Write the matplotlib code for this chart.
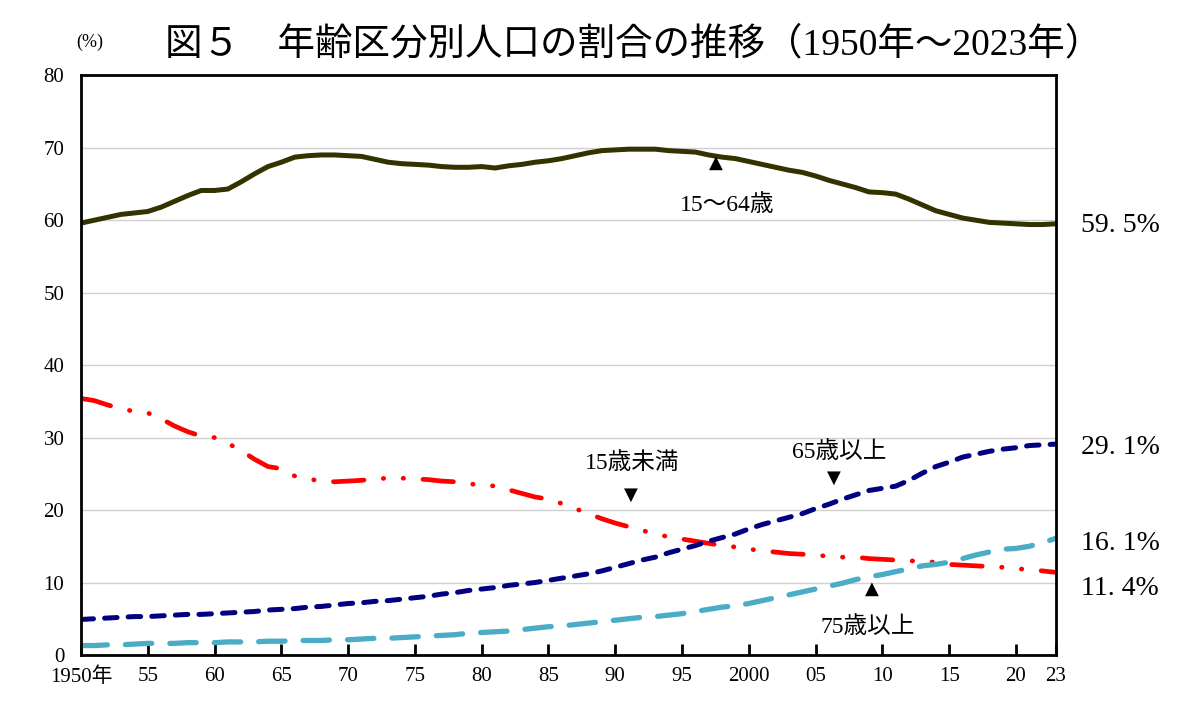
import numpy as np
import matplotlib
matplotlib.use("Agg")
import matplotlib.pyplot as plt

plt.rcParams['font.family'] = ['Liberation Serif', 'Noto Sans CJK JP', 'DejaVu Sans']
plt.rcParams['lines.scale_dashes'] = False

# data: share of population by age group (%), 1950-2023
years = list(range(1950, 2024))

age_15_64 = [59.6, 60.0, 60.4, 60.8, 61.0, 61.2, 61.8, 62.6, 63.4, 64.1,
             64.1, 64.3, 65.3, 66.4, 67.4, 68.0, 68.7, 68.9, 69.0, 69.0,
             68.9, 68.8, 68.4, 68.0, 67.8, 67.7, 67.6, 67.4, 67.3, 67.3,
             67.4, 67.2, 67.5, 67.7, 68.0, 68.2, 68.5, 68.9, 69.3, 69.6,
             69.7, 69.8, 69.8, 69.8, 69.6, 69.5, 69.4, 69.0, 68.7, 68.5,
             68.1, 67.7, 67.3, 66.9, 66.6, 66.1, 65.5, 65.0, 64.5, 63.9,
             63.8, 63.6, 62.9, 62.1, 61.3, 60.8, 60.3, 60.0, 59.7, 59.6,
             59.5, 59.4, 59.4, 59.5]

age_0_14 = [35.4, 35.1, 34.5, 34.0, 33.6, 33.4, 32.6, 31.6, 30.8, 30.2,
            30.0, 29.2, 28.2, 27.0, 26.0, 25.7, 24.7, 24.3, 24.0, 23.9,
            24.0, 24.1, 24.3, 24.4, 24.4, 24.3, 24.2, 24.0, 23.9, 23.6,
            23.5, 23.3, 22.8, 22.3, 21.8, 21.5, 20.9, 20.2, 19.5, 18.8,
            18.2, 17.7, 17.2, 16.7, 16.3, 16.0, 15.7, 15.4, 15.1, 14.9,
            14.6, 14.4, 14.2, 14.0, 13.9, 13.8, 13.6, 13.5, 13.5, 13.3,
            13.2, 13.1, 13.0, 12.9, 12.8, 12.5, 12.4, 12.3, 12.2, 12.1,
            11.9, 11.8, 11.6, 11.4]

age_65_over = [4.9, 5.0, 5.1, 5.2, 5.3, 5.3, 5.4, 5.5, 5.6, 5.6,
               5.7, 5.8, 5.9, 6.0, 6.2, 6.3, 6.4, 6.6, 6.7, 6.9,
               7.1, 7.2, 7.4, 7.5, 7.7, 7.9, 8.1, 8.4, 8.6, 8.9,
               9.1, 9.3, 9.6, 9.8, 10.0, 10.3, 10.6, 10.9, 11.2, 11.6,
               12.1, 12.6, 13.1, 13.5, 14.1, 14.6, 15.1, 15.7, 16.2, 16.7,
               17.4, 18.0, 18.5, 19.0, 19.5, 20.2, 20.8, 21.5, 22.1, 22.7,
               23.0, 23.3, 24.1, 25.1, 26.0, 26.6, 27.3, 27.7, 28.1, 28.4,
               28.6, 28.9, 29.0, 29.1]

age_75_over = [1.3, 1.3, 1.4, 1.4, 1.5, 1.6, 1.6, 1.6, 1.7, 1.7,
               1.7, 1.8, 1.8, 1.8, 1.9, 1.9, 2.0, 2.0, 2.0, 2.1,
               2.1, 2.2, 2.3, 2.3, 2.4, 2.5, 2.6, 2.7, 2.8, 3.0,
               3.1, 3.2, 3.3, 3.5, 3.7, 3.9, 4.0, 4.2, 4.4, 4.6,
               4.8, 5.0, 5.2, 5.3, 5.5, 5.7, 6.0, 6.3, 6.6, 6.8,
               7.1, 7.5, 7.9, 8.3, 8.7, 9.1, 9.5, 9.9, 10.4, 10.8,
               11.1, 11.5, 11.9, 12.3, 12.5, 12.8, 13.3, 13.8, 14.2, 14.6,
               14.7, 15.0, 15.5, 16.1]

xtick_pos = [1950, 1955, 1960, 1965, 1970, 1975, 1980, 1985, 1990, 1995,
             2000, 2005, 2010, 2015, 2020, 2023]
xtick_labels = ['1950年', '55', '60', '65', '70', '75', '80', '85', '90', '95',
                '2000', '05', '10', '15', '20', '23']

fig = plt.figure(figsize=(12, 7.1), dpi=100)
ax = fig.add_axes([0.0675, 0.0775, 0.8125, 0.8165])

ax.plot(years, age_15_64, color='#333300', lw=3.6, solid_capstyle='round')
ax.plot(years, age_0_14, color='#ff0000', lw=3.4, dashes=(22, 14, 0.3, 14, 0.3, 14),
        dash_capstyle='round')
ax.plot(years, age_65_over, color='#000080', lw=3.6, dashes=(9, 8), dash_capstyle='round')
ax.plot(years, age_75_over, color='#4bacc6', lw=3.8, dashes=(19, 13), dash_capstyle='round')

ax.set_xlim(1950, 2023)
ax.set_ylim(0, 80)
ax.set_yticks(range(0, 81, 10))
ax.set_xticks(xtick_pos)
ax.set_xticklabels(xtick_labels)
ax.grid(axis='y', color='#d0d0d0', lw=1)
ax.set_axisbelow(True)
ax.tick_params(axis='x', direction='in', length=8, width=2, labelsize=15, pad=9)
ax.tick_params(axis='y', length=0, labelsize=15, pad=12)
for s in ax.spines.values():
    s.set_linewidth(2)
    s.set_color('black')

# series annotations
ax.text(1997.5, 67.9, '▲', ha='center', va='center', fontsize=13, family='DejaVu Sans')
ax.text(1998.4, 62.1, '15～64歳', ha='center', va='center', fontsize=17)
ax.text(1991.3, 26.5, '15歳未満', ha='center', va='center', fontsize=17)
ax.text(1991.2, 22.1, '▼', ha='center', va='center', fontsize=13, family='DejaVu Sans')
ax.text(2006.8, 28.0, '65歳以上', ha='center', va='center', fontsize=17)
ax.text(2006.4, 24.4, '▼', ha='center', va='center', fontsize=13, family='DejaVu Sans')
ax.text(2008.9, 3.9, '75歳以上', ha='center', va='center', fontsize=17)
ax.text(2009.2, 9.2, '▲', ha='center', va='center', fontsize=13, family='DejaVu Sans')

# end values on the right
end_labels = ['59. 5%', '29. 1%', '16. 1%', '11. 4%']
end_y = [59.3, 28.7, 15.4, 9.2]
for lab, yv in zip(end_labels, end_y):
    ax.annotate(lab, xy=(1.0, yv), xycoords=('axes fraction', 'data'),
                xytext=(18, 0), textcoords='offset points',
                ha='left', va='center', fontsize=20)

fig.text(0.075, 0.94, '(%)', ha='center', va='center', fontsize=13)
fig.text(0.528, 0.937, '図５　年齢区分別人口の割合の推移（1950年～2023年）',
         ha='center', va='center', fontsize=27)

fig.savefig('out.png', dpi=100, facecolor='white')
